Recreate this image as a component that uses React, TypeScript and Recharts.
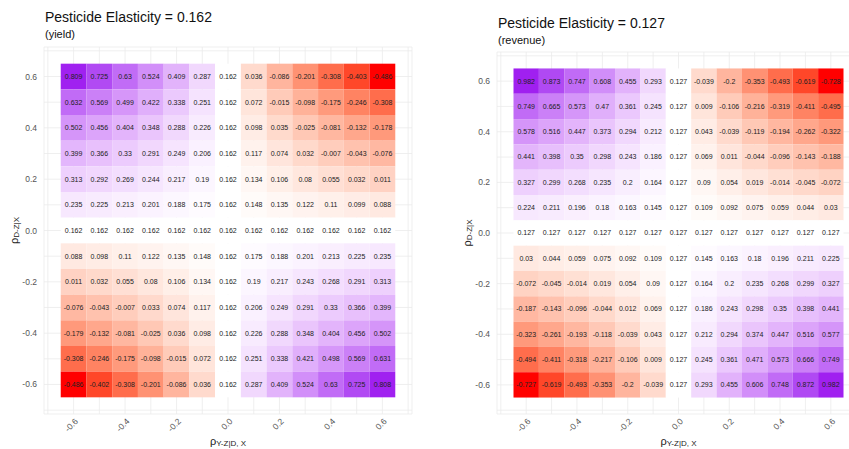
import React from 'react';
import { ScatterChart, Scatter, XAxis, YAxis, CartesianGrid, Label } from 'recharts';

// correlation grid positions
const rhoX = [-0.6, -0.5, -0.4, -0.3, -0.2, -0.1, 0, 0.1, 0.2, 0.3, 0.4, 0.5, 0.6];
const rhoY = [0.6, 0.5, 0.4, 0.3, 0.2, 0.1, 0, -0.1, -0.2, -0.3, -0.4, -0.5, -0.6];
const gridTicks = [-0.7, -0.6, -0.5, -0.4, -0.3, -0.2, -0.1, 0, 0.1, 0.2, 0.3, 0.4, 0.5, 0.6, 0.7];
const labelTicks = [-0.6, -0.4, -0.2, 0, 0.2, 0.4, 0.6];

// yield elasticities, rows from rho = 0.6 (top) to -0.6 (bottom)
const yieldBase = 0.162;
const yieldValues = [
  [0.809, 0.725, 0.63, 0.524, 0.409, 0.287, 0.162, 0.036, -0.086, -0.201, -0.308, -0.403, -0.486],
  [0.632, 0.569, 0.499, 0.422, 0.338, 0.251, 0.162, 0.072, -0.015, -0.098, -0.175, -0.246, -0.308],
  [0.502, 0.456, 0.404, 0.348, 0.288, 0.226, 0.162, 0.098, 0.035, -0.025, -0.081, -0.132, -0.178],
  [0.399, 0.366, 0.33, 0.291, 0.249, 0.206, 0.162, 0.117, 0.074, 0.032, -0.007, -0.043, -0.076],
  [0.313, 0.292, 0.269, 0.244, 0.217, 0.19, 0.162, 0.134, 0.106, 0.08, 0.055, 0.032, 0.011],
  [0.235, 0.225, 0.213, 0.201, 0.188, 0.175, 0.162, 0.148, 0.135, 0.122, 0.11, 0.099, 0.088],
  [0.162, 0.162, 0.162, 0.162, 0.162, 0.162, 0.162, 0.162, 0.162, 0.162, 0.162, 0.162, 0.162],
  [0.088, 0.098, 0.11, 0.122, 0.135, 0.148, 0.162, 0.175, 0.188, 0.201, 0.213, 0.225, 0.235],
  [0.011, 0.032, 0.055, 0.08, 0.106, 0.134, 0.162, 0.19, 0.217, 0.243, 0.268, 0.291, 0.313],
  [-0.076, -0.043, -0.007, 0.033, 0.074, 0.117, 0.162, 0.206, 0.249, 0.291, 0.33, 0.366, 0.399],
  [-0.179, -0.132, -0.081, -0.025, 0.036, 0.098, 0.162, 0.226, 0.288, 0.348, 0.404, 0.456, 0.502],
  [-0.308, -0.246, -0.175, -0.098, -0.015, 0.072, 0.162, 0.251, 0.338, 0.421, 0.498, 0.569, 0.631],
  [-0.486, -0.402, -0.308, -0.201, -0.086, 0.036, 0.162, 0.287, 0.409, 0.524, 0.63, 0.725, 0.808],
];

// revenue elasticities
const revenueBase = 0.127;
const revenueValues = [
  [0.982, 0.873, 0.747, 0.608, 0.455, 0.293, 0.127, -0.039, -0.2, -0.353, -0.493, -0.619, -0.728],
  [0.749, 0.665, 0.573, 0.47, 0.361, 0.245, 0.127, 0.009, -0.106, -0.216, -0.319, -0.411, -0.495],
  [0.578, 0.516, 0.447, 0.373, 0.294, 0.212, 0.127, 0.043, -0.039, -0.119, -0.194, -0.262, -0.322],
  [0.441, 0.398, 0.35, 0.298, 0.243, 0.186, 0.127, 0.069, 0.011, -0.044, -0.096, -0.143, -0.188],
  [0.327, 0.299, 0.268, 0.235, 0.2, 0.164, 0.127, 0.09, 0.054, 0.019, -0.014, -0.045, -0.072],
  [0.224, 0.211, 0.196, 0.18, 0.163, 0.145, 0.127, 0.109, 0.092, 0.075, 0.059, 0.044, 0.03],
  [0.127, 0.127, 0.127, 0.127, 0.127, 0.127, 0.127, 0.127, 0.127, 0.127, 0.127, 0.127, 0.127],
  [0.03, 0.044, 0.059, 0.075, 0.092, 0.109, 0.127, 0.145, 0.163, 0.18, 0.196, 0.211, 0.225],
  [-0.072, -0.045, -0.014, 0.019, 0.054, 0.09, 0.127, 0.164, 0.2, 0.235, 0.268, 0.299, 0.327],
  [-0.187, -0.143, -0.096, -0.044, 0.012, 0.069, 0.127, 0.186, 0.243, 0.298, 0.35, 0.398, 0.441],
  [-0.323, -0.261, -0.193, -0.118, -0.039, 0.043, 0.127, 0.212, 0.294, 0.374, 0.447, 0.516, 0.577],
  [-0.494, -0.411, -0.318, -0.217, -0.106, 0.009, 0.127, 0.245, 0.361, 0.471, 0.573, 0.666, 0.749],
  [-0.727, -0.619, -0.493, -0.353, -0.2, -0.039, 0.127, 0.293, 0.455, 0.606, 0.748, 0.872, 0.982],
];

const FONT = '"Liberation Sans", Arial, sans-serif';
const DOMAIN: [number, number] = [-0.715, 0.715];

// --- lab colour interpolation (like ggplot's gradient2) ---
const toLin = (c: number) => (c <= 0.04045 ? c / 12.92 : Math.pow((c + 0.055) / 1.055, 2.4));
const fromLin = (c: number) => (c <= 0.0031308 ? 12.92 * c : 1.055 * Math.pow(c, 1 / 2.4) - 0.055);
const WN = [0.95047, 1, 1.08883];

function hexToLab(hex: string) {
  const n = parseInt(hex.slice(1), 16);
  const [r, g, b] = [(n >> 16) & 255, (n >> 8) & 255, n & 255].map((v) => toLin(v / 255));
  const X = (0.4124564 * r + 0.3575761 * g + 0.1804375 * b) / WN[0];
  const Y = (0.2126729 * r + 0.7151522 * g + 0.072175 * b) / WN[1];
  const Z = (0.0193339 * r + 0.119192 * g + 0.9503041 * b) / WN[2];
  const f = (t: number) => (t > 0.008856 ? Math.cbrt(t) : 7.787 * t + 16 / 116);
  const fx = f(X), fy = f(Y), fz = f(Z);
  return [116 * fy - 16, 500 * (fx - fy), 200 * (fy - fz)];
}

function labToHex([L, a, bb]: number[]) {
  const fy = (L + 16) / 116;
  const fx = fy + a / 500;
  const fz = fy - bb / 200;
  const inv = (t: number) => (t * t * t > 0.008856 ? t * t * t : (t - 16 / 116) / 7.787);
  const X = inv(fx) * WN[0], Y = inv(fy) * WN[1], Z = inv(fz) * WN[2];
  const rgb = [
    3.2404542 * X - 1.5371385 * Y - 0.4985314 * Z,
    -0.969266 * X + 1.8760108 * Y + 0.041556 * Z,
    0.0556434 * X - 0.2040259 * Y + 1.0572252 * Z,
  ].map((c) => Math.round(Math.max(0, Math.min(1, fromLin(c))) * 255));
  return '#' + rgb.map((c) => c.toString(16).padStart(2, '0')).join('');
}

const LOW = hexToLab('#FF0000');
const MID = hexToLab('#FFFFFF');
const HIGH = hexToLab('#A020F0');
const mix = (p: number[], q: number[], s: number) => p.map((v, i) => v + (q[i] - v) * s);

function fillFor(v: number, base: number, maxDev: number) {
  const t = 0.5 + (v - base) / maxDev / 2;
  if (t <= 0.5) return labToHex(mix(LOW, MID, t * 2));
  return labToHex(mix(MID, HIGH, (t - 0.5) * 2));
}

interface PanelProps {
  title: string;
  subtitle: string;
  values: number[][];
  base: number;
  left: number;
  width: number;
  top: number;
  titleTop: number;
  subTop: number;
}

const HeatPanel = ({ title, subtitle, values, base, left, width, top, titleTop, subTop }: PanelProps) => {
  const data = values.flatMap((row, i) => row.map((v, j) => ({ x: rhoX[j], y: rhoY[i], v })));
  const all = values.flat();
  const maxDev = Math.max(...all.map((v) => Math.abs(v - base)));
  const height = 449;
  const margin = { top, right: 13, bottom: 0, left: 14 };
  const plotW = width - margin.left - 30 - margin.right;
  const plotH = height - top - 35;
  const cw = (plotW * 0.1) / (DOMAIN[1] - DOMAIN[0]);
  const ch = (plotH * 0.1) / (DOMAIN[1] - DOMAIN[0]);

  const cell = (p: any) => {
    const { cx, cy, payload } = p;
    return (
      <g>
        <rect x={cx - cw / 2} y={cy - ch / 2} width={cw} height={ch} fill={fillFor(payload.v, base, maxDev)} />
        <text x={cx} y={cy + 2.4} textAnchor="middle" fontSize={7} fontFamily={FONT} fill="#222">
          {String(payload.v)}
        </text>
      </g>
    );
  };

  const xTick = (p: any) => {
    const { x, y, payload } = p;
    if (!labelTicks.includes(payload.value)) return <g />;
    const ax = x + 5, ay = y + 8;
    return (
      <text x={ax} y={ay} textAnchor="end" transform={`rotate(-45, ${ax}, ${ay})`} fontSize={8.5} fontFamily={FONT} fill="#555">
        {payload.value.toFixed(1)}
      </text>
    );
  };

  const yTick = (p: any) => {
    const { x, y, payload } = p;
    if (!labelTicks.includes(payload.value)) return <g />;
    return (
      <text x={x - 7} y={y + 3} textAnchor="end" fontSize={8.5} fontFamily={FONT} fill="#555">
        {payload.value.toFixed(1)}
      </text>
    );
  };

  const xTitle = (p: any) => {
    const vb = p.viewBox;
    return (
      <text x={vb.x + vb.width / 2} y={vb.y + 30.5} textAnchor="middle" fontSize={11} fontFamily={FONT} fill="#222">
        <tspan>ρ</tspan>
        <tspan fontSize={8} dy={1.5}>Y-Z|D, X</tspan>
      </text>
    );
  };

  const yTitle = (p: any) => {
    const vb = p.viewBox;
    const tx = vb.x + 3.5, ty = vb.y + vb.height / 2;
    return (
      <text x={tx} y={ty} textAnchor="middle" transform={`rotate(-90, ${tx}, ${ty})`} fontSize={11} fontFamily={FONT} fill="#222">
        <tspan>ρ</tspan>
        <tspan fontSize={8} dy={1.5}>D-Z|X</tspan>
      </text>
    );
  };

  return (
    <>
      <div style={{ position: 'absolute', left: left + 45, top: titleTop, fontFamily: FONT, fontSize: 14, lineHeight: 1, color: '#111', whiteSpace: 'nowrap' }}>
        {title}
      </div>
      <div style={{ position: 'absolute', left: left + 45, top: subTop, fontFamily: FONT, fontSize: 11, lineHeight: 1, color: '#111' }}>
        {subtitle}
      </div>
      <div style={{ position: 'absolute', left, top: 0 }}>
        <ScatterChart width={width} height={height} margin={margin}>
          <CartesianGrid stroke="#ebebeb" strokeWidth={0.8} />
          <XAxis
            type="number"
            dataKey="x"
            domain={DOMAIN}
            allowDataOverflow
            ticks={gridTicks}
            interval={0}
            tick={xTick}
            tickLine={false}
            axisLine={false}
            tickSize={0}
            tickMargin={0}
            height={35}
          >
            <Label content={xTitle} />
          </XAxis>
          <YAxis
            type="number"
            dataKey="y"
            domain={DOMAIN}
            allowDataOverflow
            ticks={gridTicks}
            interval={0}
            tick={yTick}
            tickLine={false}
            axisLine={false}
            tickSize={0}
            tickMargin={0}
            width={30}
          >
            <Label content={yTitle} />
          </YAxis>
          <Scatter data={data} shape={cell} isAnimationActive={false} />
        </ScatterChart>
      </div>
    </>
  );
}

export default function App() {
  return (
    <div style={{ position: 'fixed', left: 0, top: 0, width: 849, height: 449, overflow: 'hidden', background: '#fff' }}>
      <HeatPanel
        title="Pesticide Elasticity = 0.162"
        subtitle="(yield)"
        values={yieldValues}
        base={yieldBase}
        left={0}
        width={425}
        top={47}
        titleTop={9.6}
        subTop={29}
      />
      <HeatPanel
        title="Pesticide Elasticity = 0.127"
        subtitle="(revenue)"
        values={revenueValues}
        base={revenueBase}
        left={453}
        width={420}
        top={52}
        titleTop={15.6}
        subTop={35}
      />
    </div>
  );
}
